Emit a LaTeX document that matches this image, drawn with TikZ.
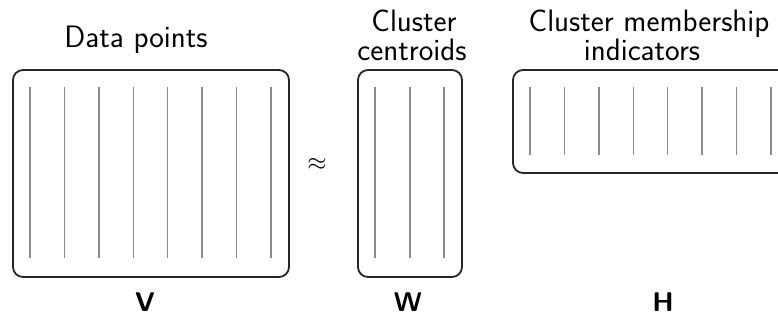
\documentclass[tikz,border=0pt]{standalone}
\begin{document}
\begin{tikzpicture}[x=1pt,y=-1pt,
  mat/.style={draw=black!85, line width=1.8pt, rounded corners=10pt, inner sep=0pt},
  col/.style={draw=black!45, line width=1.4pt},
  ttl/.style={font=\sffamily\fontsize{31}{34}\selectfont, anchor=base, inner sep=0pt},
  lbl/.style={font=\sffamily\bfseries\fontsize{27}{30}\selectfont, anchor=base, inner sep=0pt}]
\useasboundingbox (0,0) rectangle (778,320);
\clip (0,0) rectangle (778,320);
% V
\node[mat, minimum width=276pt, minimum height=207pt] (V) at (151,173.5) {};
\foreach \i in {0,...,7} {
  \coordinate (va\i) at (30+34.4*\i,87);
  \coordinate (vb\i) at (30+34.4*\i,258);
  \draw[col] (va\i) -- (vb\i);
}
% W
\node[mat, minimum width=104pt, minimum height=207pt] (W) at (410,173.5) {};
\foreach \x [count=\i] in {375,410,444} {
  \coordinate (wa\i) at (\x,87);
  \coordinate (wb\i) at (\x,258);
  \draw[col] (wa\i) -- (wb\i);
}
% H
\node[mat, minimum width=276pt, minimum height=103pt] (H) at (651,121.5) {};
\foreach \i in {0,...,7} {
  \coordinate (ha\i) at (530+34.4*\i,87);
  \coordinate (hb\i) at (530+34.4*\i,155);
  \draw[col] (ha\i) -- (hb\i);
}
% approx
\node[font=\fontsize{25}{28}\selectfont, inner sep=0pt] (approx) at (317,164) {$\approx$};
% titles
\node[ttl] (t1) at (136,48) {Data points};
\node[ttl] (t2a) at (414,32) {Cluster};
\node[ttl] (t2b) at (412,61) {centroids};
\node[ttl] (t3a) at (649,32) {Cluster membership};
\node[ttl] (t3b) at (642,61) {indicators};
% labels
\node[lbl] (lv) at (145,311) {V};
\node[lbl] (lw) at (408,311) {W};
\node[lbl] (lh) at (663,311) {H};
\end{tikzpicture}
\end{document}
